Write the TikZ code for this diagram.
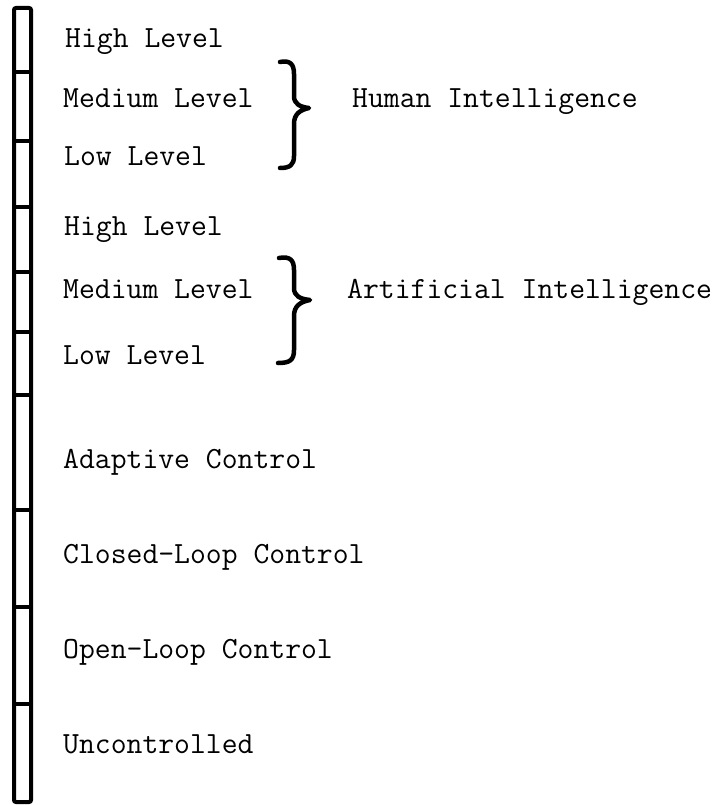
\documentclass[tikz,border=0pt]{standalone}
\begin{document}
\begin{tikzpicture}[x=1pt,y=-1pt,
  lbl/.style={anchor=base west,inner sep=0pt,font=\fontsize{30.8}{33}\selectfont\ttfamily},
  barline/.style={line width=4pt},
  bracestyle/.style={line width=4.5pt,line cap=round,line join=round}]
\useasboundingbox (0,0) rectangle (721,805);
% ladder bar
\draw[barline,rounded corners=2pt] (14,8) rectangle (31,802);
\foreach \yy in {72,141,207,272,332,395,510,607,704}
  \draw[barline] (14,\yy) -- (31,\yy);
% labels
\node[lbl] (hl1) at (65,48) {High Level};
\node[lbl] (ml1) at (63,108) {Medium Level};
\node[lbl] (ll1) at (64,166) {Low Level};
\node[lbl] (hl2) at (64,235) {High Level};
\node[lbl] (ml2) at (63,298) {Medium Level};
\node[lbl] (ll2) at (63,364) {Low Level};
\node[lbl] (ac) at (63,468) {Adaptive Control};
\node[lbl] (clc) at (63,563) {Closed-Loop Control};
\node[lbl] (olc) at (63,658) {Open-Loop Control};
\node[lbl] (unc) at (63,753) {Uncontrolled};
\node[lbl] (hi) at (352,108) {Human Intelligence};
\node[lbl] (ai) at (347,298) {Artificial Intelligence};
% braces
\draw[bracestyle] (280,62) .. controls (290,60) and (294,64) .. (294,74)
  -- (294,96) .. controls (294,104) and (300,107) .. (309,108)
  .. controls (300,110) and (294,114) .. (294,124)
  -- (294,156) .. controls (294,165) and (290,168) .. (280,168);
\draw[bracestyle] (279,258) .. controls (290,256) and (294,260) .. (294,270)
  -- (294,288) .. controls (294,296) and (300,299) .. (310,300)
  .. controls (300,302) and (294,306) .. (294,316)
  -- (294,350) .. controls (294,360) and (290,363) .. (278,363);
\end{tikzpicture}
\end{document}
